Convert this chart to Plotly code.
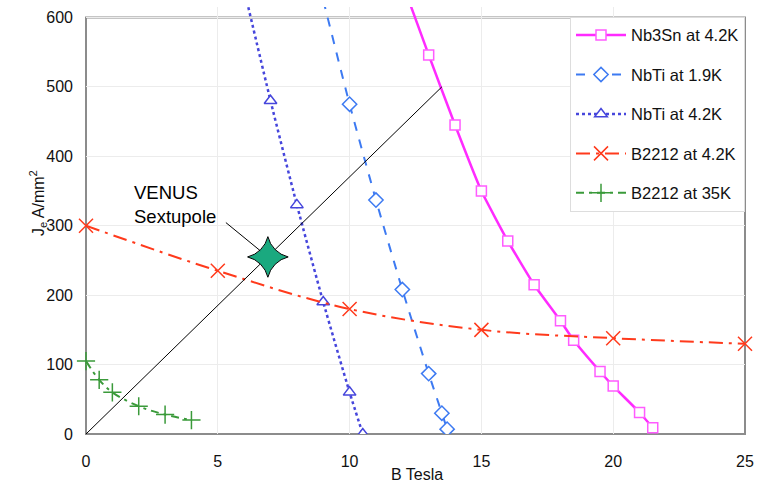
import plotly.graph_objects as go

# ---- data ----
nb3sn_B = [12.0, 13.0, 14.0, 15.0, 16.0, 17.0, 18.0, 18.5, 19.5, 20.0, 21.0, 21.5]
nb3sn_J = [650, 546, 445, 350, 278, 215, 163, 135, 90, 69, 31, 9]

nbti19_B = [9.0, 10.0, 11.0, 12.0, 13.0, 13.5, 13.7]
nbti19_J = [625, 475, 337, 208, 87, 30, 7]

nbti42_B = [6.0, 7.0, 8.0, 9.0, 10.0, 10.5]
nbti42_J = [640, 480, 330, 190, 60, 0]

b2212_42_B = [0, 5, 10, 15, 20, 25]
b2212_42_J = [300, 235, 180, 150, 138, 130]

b2212_35_B = [0, 0.5, 1, 2, 3, 4]
b2212_35_J = [105, 78, 60, 40, 28, 20]

loadline_B = [0, 13.5]
loadline_J = [0, 500]

venus_B = [6.9]
venus_J = [255]

x_ticks = [0, 5, 10, 15, 20, 25]
y_ticks = [0, 100, 200, 300, 400, 500, 600]

Y_TOP = 615
FONT = "Liberation Sans, Arial, sans-serif"

fig = go.Figure()

fig.add_trace(go.Scatter(
    x=nb3sn_B, y=nb3sn_J, name="Nb3Sn at 4.2K", legendgroup="a",
    mode="lines+markers", line=dict(color="#ff2bff", width=2.5, shape="spline", smoothing=0.4),
    marker=dict(symbol="square", size=10, color="white", line=dict(color="#ff5cff", width=1.5))))
fig.add_trace(go.Scatter(
    x=nbti19_B, y=nbti19_J, name="NbTi at 1.9K", legendgroup="b",
    mode="lines+markers", line=dict(color="#3d7af2", width=2, dash="dash", shape="spline", smoothing=0.6),
    marker=dict(symbol="diamond", size=11, color="white", line=dict(color="#3d7af2", width=1.5))))
fig.add_trace(go.Scatter(
    x=nbti42_B, y=nbti42_J, name="NbTi at 4.2K", legendgroup="c",
    mode="lines+markers", line=dict(color="#4646dc", width=2.5, dash="dot", shape="spline", smoothing=0.6),
    marker=dict(symbol="triangle-up", size=11, color="white", line=dict(color="#4646dc", width=1.5))))
fig.add_trace(go.Scatter(
    x=b2212_42_B, y=b2212_42_J, name="B2212 at 4.2K", legendgroup="d", cliponaxis=False,
    mode="lines+markers", line=dict(color="#ff3a1c", width=2, dash="14px,6px,3px,6px", shape="spline", smoothing=1),
    marker=dict(symbol="x-thin", size=14, line=dict(color="#ff3a1c", width=1.5))))
fig.add_trace(go.Scatter(
    x=b2212_35_B, y=b2212_35_J, name="B2212 at 35K", legendgroup="e", cliponaxis=False,
    mode="lines+markers", line=dict(color="#3a9a3a", width=2, dash="8px,5px,3px,5px", shape="spline", smoothing=1),
    marker=dict(symbol="cross-thin", size=13, line=dict(color="#3a9a3a", width=1.5))))
fig.add_trace(go.Scatter(
    x=loadline_B, y=loadline_J, mode="lines", showlegend=False, hoverinfo="skip",
    line=dict(color="black", width=1)))
fig.add_trace(go.Scatter(
    x=venus_B, y=venus_J, mode="markers", showlegend=False,
    marker=dict(symbol="star-diamond", size=29, color="#1aa97f", line=dict(color="black", width=1))))

# plot frame (0..25, 0..600)
fig.add_shape(type="rect", xref="paper", yref="paper", x0=0, x1=1, y0=0, y1=600 / Y_TOP,
              line=dict(color="#8c8c8c", width=2), layer="below")

fig.add_annotation(x=1.73, y=331, xref="x", yref="y", text="VENUS<br>Sextupole",
                   showarrow=False, xanchor="left", yanchor="middle", align="left",
                   font=dict(family=FONT, size=18.5, color="black"))
fig.add_annotation(x=venus_B[0], y=venus_J[0], xref="x", yref="y", text=" ",
                   showarrow=True, arrowhead=0, arrowwidth=1, arrowcolor="black",
                   ax=-44, ay=-36, standoff=10, font=dict(size=2))
fig.add_annotation(x=-0.0917, y=0.54, xref="paper", yref="paper", textangle=-90,
                   text="J<sub>e</sub> A/mm<sup>2</sup>", showarrow=False,
                   font=dict(family=FONT, size=16, color="#111"))
fig.add_annotation(x=0.502, y=-0.096, xref="paper", yref="paper", text="B Tesla",
                   showarrow=False, yanchor="middle",
                   font=dict(family=FONT, size=16, color="#111"))

fig.update_layout(
    width=761, height=486,
    margin=dict(l=86, r=10, t=7, b=52),
    paper_bgcolor="white", plot_bgcolor="white",
    font=dict(family=FONT, size=16, color="#111"),
    showlegend=True,
    legend=dict(x=1, xanchor="right", y=0.977, yanchor="top",
                bgcolor="white", bordercolor="#dddddd", borderwidth=1,
                font=dict(family=FONT, size=16.5, color="#111"),
                tracegroupgap=15, itemwidth=50),
    xaxis=dict(range=[0, 25], tickvals=x_ticks, showgrid=True, gridcolor="#ececec",
               zeroline=False, showline=False, ticks="", ticklabelstandoff=16,
               tickfont=dict(family=FONT, size=16, color="#111")),
    yaxis=dict(range=[0, Y_TOP], tickvals=y_ticks, showgrid=True, gridcolor="#ececec",
               zeroline=False, showline=False, ticks="", ticklabelstandoff=12,
               tickfont=dict(family=FONT, size=16, color="#111")),
)

fig.write_html("out.html", config={"displayModeBar": False},
               post_script="document.body.style.margin='0';document.body.style.overflow='hidden';")
